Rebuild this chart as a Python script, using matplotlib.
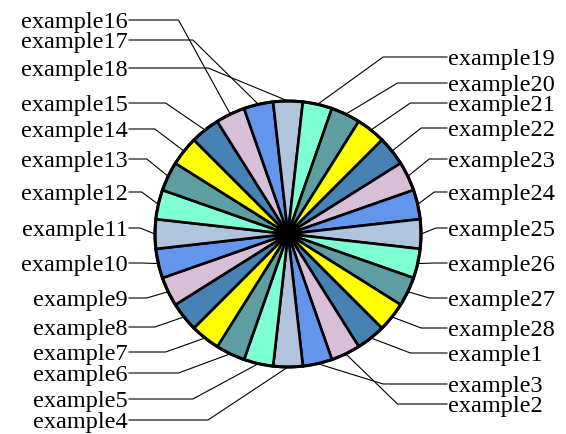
import numpy as np
import matplotlib
matplotlib.use("Agg")
import matplotlib.pyplot as plt
from matplotlib.patches import Circle

# ---- data ----
labels = ["example1", "example2", "example3", "example4", "example5", "example6",
          "example7", "example8", "example9", "example10", "example11", "example12",
          "example13", "example14", "example15", "example16", "example17", "example18",
          "example19", "example20", "example21", "example22", "example23", "example24",
          "example25", "example26", "example27", "example28"]
values = [1, 1, 1, 1, 1, 1, 1, 1, 1, 1, 1, 1, 1, 1,
          1, 1, 1, 1, 1, 1, 1, 1, 1, 1, 1, 1, 1, 1]
palette = ["#4682B4", "#D8BFD8", "#6495ED", "#B0C4DE", "#7FFFD4", "#5F9EA0", "#FFFF00"]

# ---- layout (pixels from top of the figure) ----
W, H = 566, 434
CX, CY, R = 288, 234, 133
label_y_px = [353, 404, 384, 420, 399, 373, 352, 327, 298, 263, 228, 192, 159, 129,
              103, 20, 40, 68, 57, 83, 103, 128, 159, 192, 228, 263, 298, 328]
LEFT_TEXT_X, RIGHT_TEXT_X = 129, 447

fig = plt.figure(figsize=(W / 100, H / 100), dpi=100)
ax = fig.add_axes([0, 0, 1, 1])
ax.set_axis_off()

colors = [palette[i % len(palette)] for i in range(len(values))]
wedges, _ = ax.pie(values, colors=colors, startangle=-45, counterclock=False,
                   center=(CX, H - CY), radius=R, frame=True,
                   wedgeprops=dict(edgecolor="black", linewidth=1.9))
ax.add_patch(Circle((CX, H - CY), R, facecolor="none", edgecolor="black",
                    linewidth=2.2, zorder=5))

ax.set_xlim(0, W)
ax.set_ylim(0, H)
ax.set_aspect("equal")
ax.set_axis_off()

font = dict(family="Liberation Serif", size=17.5, color="black")
for k, (w, lab) in enumerate(zip(wedges, labels)):
    mid = np.deg2rad((w.theta1 + w.theta2) / 2)
    px = CX + R * np.cos(mid)
    py = (H - CY) + R * np.sin(mid)
    right = (k + 1) >= 19 or (k + 1) <= 3
    dx = 80 + 68 * abs(np.cos(mid))
    ly = H - label_y_px[k]
    if right:
        ex = CX + dx
        tx = RIGHT_TEXT_X
        ax.plot([px, ex, tx], [py, ly, ly], color="black", lw=0.8, zorder=6)
        ax.text(tx + 1, ly - 2.5, lab, ha="left", va="center", **font)
    else:
        ex = CX - dx
        tx = LEFT_TEXT_X
        ax.plot([px, ex, tx], [py, ly, ly], color="black", lw=0.8, zorder=6)
        ax.text(tx - 1, ly - 2.5, lab, ha="right", va="center", **font)

fig.savefig("out.png", dpi=100)
